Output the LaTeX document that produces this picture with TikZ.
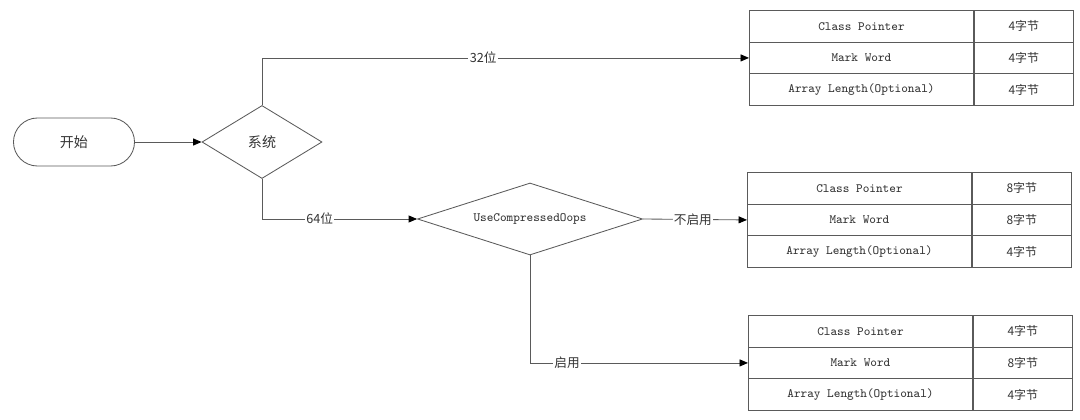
\documentclass[tikz,border=0pt]{standalone}
\usepackage{fontspec}
\setmainfont{Noto Sans CJK SC}
\usetikzlibrary{shapes.geometric,arrows.meta}
\definecolor{linegray}{HTML}{5A5A5A}
\definecolor{textgray}{HTML}{333333}
\tikzset{
  line/.style={draw=linegray, line width=0.6pt},
  arrow/.style={line, -{Triangle[length=6pt,width=5pt,color=black]}},
  startbox/.style={line, rectangle, rounded corners=0.6cm, minimum width=3.025cm, minimum height=1.2cm, text=textgray, font=\fontsize{10}{12}\selectfont},
  decision/.style={line, diamond, inner sep=0pt, text=textgray},
  cell/.style={line, rectangle, minimum height=0.79cm, inner sep=0pt, text=textgray},
  namecell/.style={cell, minimum width=5.6cm, font=\ttfamily\fontsize{9}{10}\selectfont},
  sizecell/.style={cell, minimum width=2.475cm, font=\fontsize{8.5}{10}\selectfont},
  branch/.style={fill=white, inner sep=1pt, text=textgray, font=\fontsize{9}{10}\selectfont},
}
\begin{document}
\begin{tikzpicture}[x=0.025cm, y=-0.025cm]
  \useasboundingbox (0,0) rectangle (1080,420);

  \node[startbox] (start) at (74,142) {开始};
  \node[decision, minimum width=3cm, minimum height=1.825cm, font=\fontsize{10}{12}\selectfont] (sys) at (262,142) {系统};
  \node[decision, aspect=3, minimum width=5.625cm, minimum height=1.8cm, font=\ttfamily\fontsize{9}{10}\selectfont] (uco) at (530,219) {UseCompressedOops};

  % object header tables
  \foreach \t/\x/\y/\a/\b/\c in {1/749/10/4/4/4, 2/747/172/8/8/4, 3/748/315/4/8/4} {
    \foreach \r/\field/\bytes in {1/Class Pointer/\a, 2/Mark Word/\b, 3/Array Length(Optional)/\c} {
      \node[namecell, anchor=north west] (t\t n\r) at (\x, {\y+(\r-1)*31.7}) {\field};
      \node[sizecell, anchor=west] (t\t s\r) at (t\t n\r.east) {{\bytes}字节};
    }
  }

  \draw[arrow] (start) -- (sys);
  \draw[arrow] (sys.north) |- node[branch, pos=0.727] {32位} (t1n2.west);
  \draw[arrow] (sys.south) |- node[branch, pos=0.686] {64位} (uco.west);
  \draw[arrow] (uco.east) -- node[branch, pos=0.48] {不启用} (t2n2.west);
  \draw[arrow] (uco.south) |- node[branch, pos=0.585] {启用} (t3n2.west);
\end{tikzpicture}
\end{document}
